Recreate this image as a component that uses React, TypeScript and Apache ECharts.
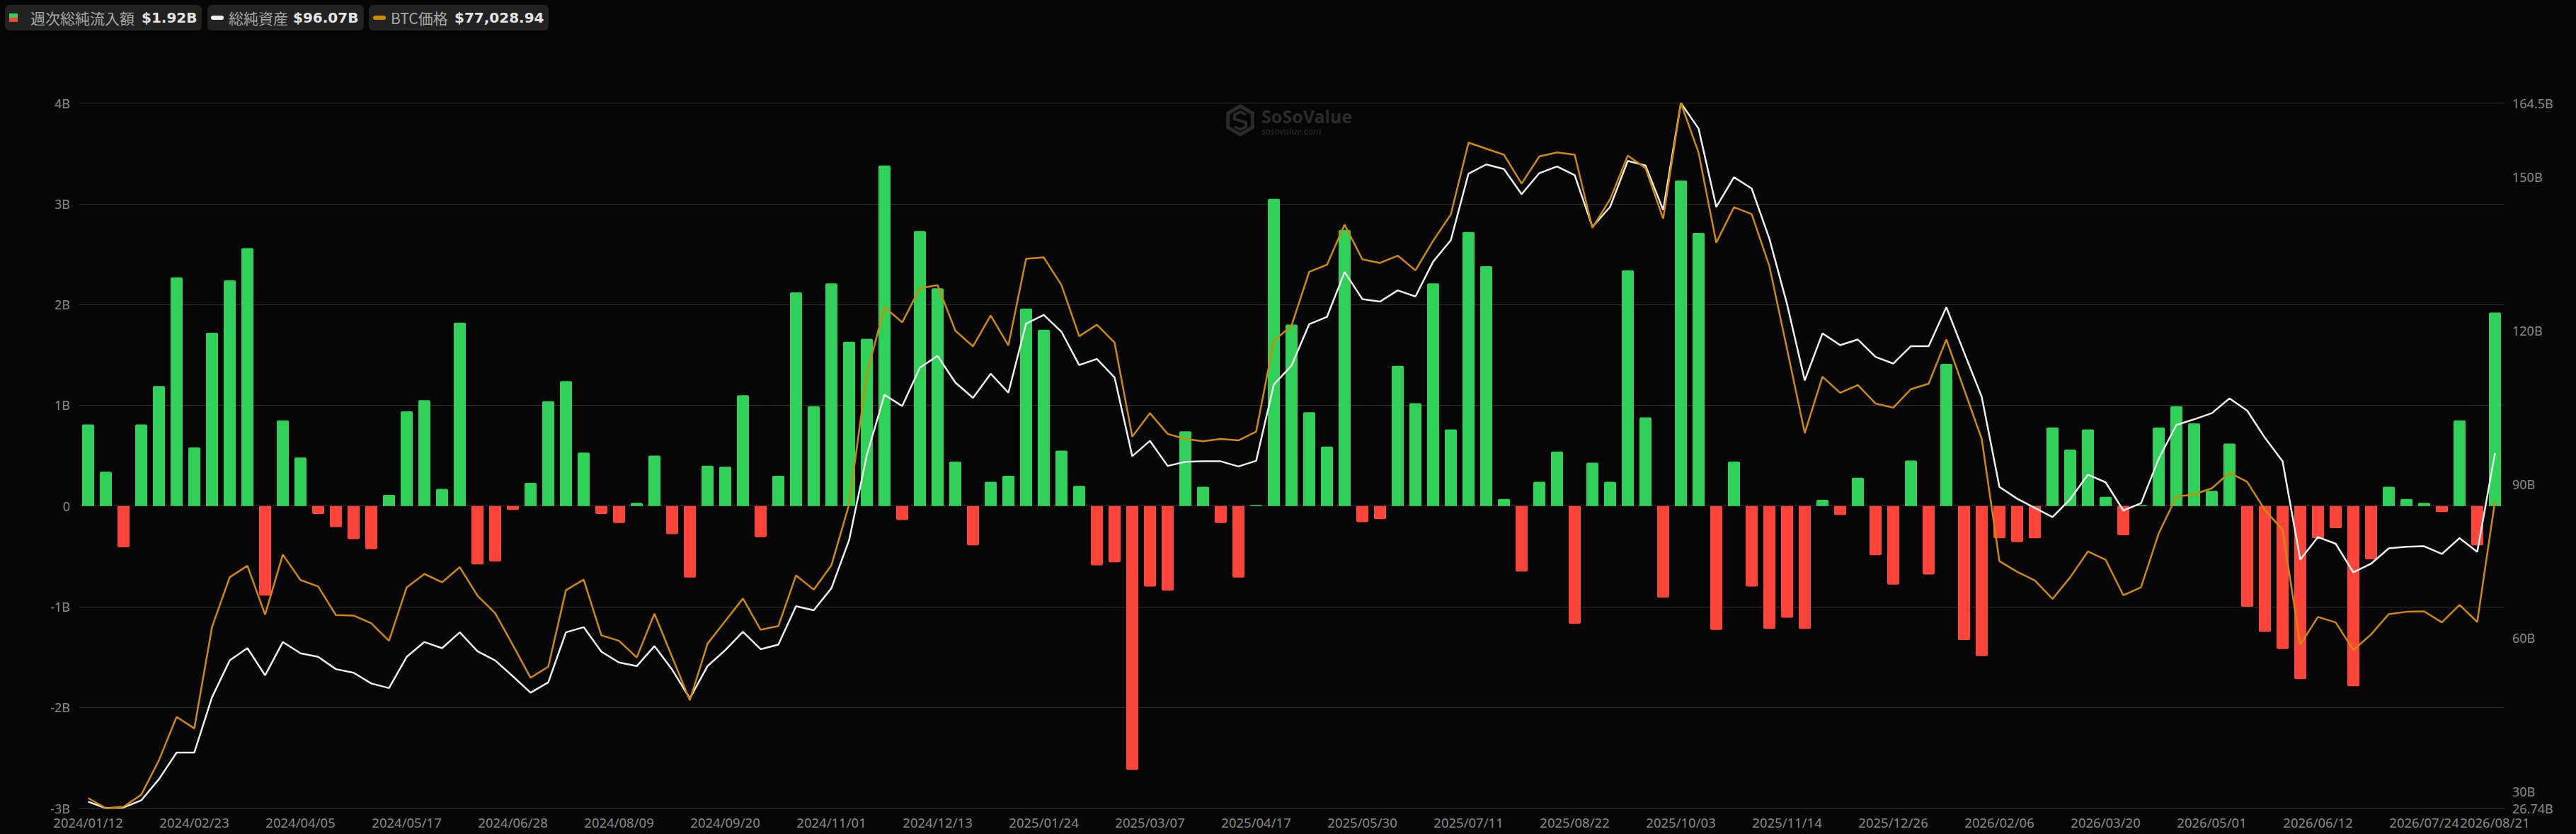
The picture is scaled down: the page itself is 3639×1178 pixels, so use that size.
import React, { useEffect, useRef } from "react";
import * as echarts from "echarts";

const dates = [
  "2024/01/12","2024/01/19","2024/01/26","2024/02/02","2024/02/09","2024/02/16","2024/02/23","2024/03/01","2024/03/08","2024/03/15",
  "2024/03/22","2024/03/29","2024/04/05","2024/04/12","2024/04/19","2024/04/26","2024/05/03","2024/05/10","2024/05/17","2024/05/24",
  "2024/05/31","2024/06/07","2024/06/14","2024/06/21","2024/06/28","2024/07/05","2024/07/12","2024/07/19","2024/07/26","2024/08/02",
  "2024/08/09","2024/08/16","2024/08/23","2024/08/30","2024/09/06","2024/09/13","2024/09/20","2024/09/27","2024/10/04","2024/10/11",
  "2024/10/18","2024/10/25","2024/11/01","2024/11/08","2024/11/15","2024/11/22","2024/11/29","2024/12/06","2024/12/13","2024/12/20",
  "2024/12/27","2025/01/03","2025/01/10","2025/01/17","2025/01/24","2025/01/31","2025/02/07","2025/02/14","2025/02/21","2025/02/28",
  "2025/03/07","2025/03/14","2025/03/21","2025/03/28","2025/04/04","2025/04/11","2025/04/17","2025/04/25","2025/05/02","2025/05/09",
  "2025/05/16","2025/05/23","2025/05/30","2025/06/06","2025/06/13","2025/06/20","2025/06/27","2025/07/04","2025/07/11","2025/07/18",
  "2025/07/25","2025/08/01","2025/08/08","2025/08/15","2025/08/22","2025/08/29","2025/09/05","2025/09/12","2025/09/19","2025/09/26",
  "2025/10/03","2025/10/10","2025/10/17","2025/10/24","2025/10/31","2025/11/07","2025/11/14","2025/11/21","2025/11/28","2025/12/05",
  "2025/12/12","2025/12/19","2025/12/26","2026/01/02","2026/01/09","2026/01/16","2026/01/23","2026/01/30","2026/02/06","2026/02/13",
  "2026/02/20","2026/02/27","2026/03/06","2026/03/13","2026/03/20","2026/03/27","2026/04/03","2026/04/10","2026/04/17","2026/04/24",
  "2026/05/01","2026/05/08","2026/05/15","2026/05/22","2026/05/29","2026/06/05","2026/06/12","2026/06/19","2026/06/26","2026/07/03",
  "2026/07/10","2026/07/17","2026/07/24","2026/07/31","2026/08/07","2026/08/14","2026/08/21",
];

// 週次総純流入額 (B USD)
const weeklyNetInflowB = [
  0.81, 0.34, -0.41, 0.81, 1.19, 2.27, 0.58, 1.72, 2.24, 2.56,
  -0.89, 0.85, 0.48, -0.08, -0.21, -0.33, -0.43, 0.11, 0.94, 1.05,
  0.17, 1.82, -0.58, -0.55, -0.04, 0.23, 1.04, 1.24, 0.53, -0.08,
  -0.17, 0.03, 0.5, -0.28, -0.71, 0.4, 0.39, 1.1, -0.31, 0.3,
  2.12, 0.99, 2.21, 1.63, 1.66, 3.38, -0.14, 2.73, 2.16, 0.44,
  -0.39, 0.24, 0.3, 1.96, 1.75, 0.55, 0.2, -0.59, -0.56, -2.62,
  -0.8, -0.84, 0.74, 0.19, -0.17, -0.71, 0.01, 3.05, 1.8, 0.93,
  0.59, 2.74, -0.16, -0.13, 1.39, 1.02, 2.21, 0.76, 2.72, 2.38,
  0.07, -0.65, 0.24, 0.54, -1.17, 0.43, 0.24, 2.34, 0.88, -0.91,
  3.23, 2.71, -1.23, 0.44, -0.8, -1.22, -1.11, -1.22, 0.06, -0.09,
  0.28, -0.49, -0.78, 0.45, -0.68, 1.41, -1.33, -1.49, -0.32, -0.36,
  -0.32, 0.78, 0.56, 0.76, 0.09, -0.29, 0.01, 0.78, 0.99, 0.82,
  0.15, 0.62, -1.0, -1.25, -1.42, -1.72, -0.32, -0.22, -1.79, -0.53,
  0.19, 0.07, 0.03, -0.06, 0.85, -0.39, 1.92,
];

// 総純資産 (B USD)
const totalNetAssetsB = [
  28.0, 26.74, 26.85, 28.27, 32.4, 37.6, 37.6, 48.4, 55.6, 58.0,
  52.7, 59.2, 57.0, 56.3, 53.9, 53.2, 51.1, 50.2, 56.3, 59.2,
  58.0, 61.1, 57.4, 55.6, 52.5, 49.3, 51.3, 61.1, 62.1, 57.3,
  55.2, 54.5, 58.4, 53.8, 48.2, 54.5, 57.6, 61.2, 57.8, 58.7,
  66.2, 65.4, 69.7, 79.1, 95.7, 107.5, 105.3, 112.8, 115.1, 109.9,
  106.9, 111.6, 107.9, 121.4, 123.1, 119.8, 113.3, 114.5, 110.9, 95.5,
  98.5, 93.6, 94.4, 94.5, 94.5, 93.5, 94.6, 109.5, 113.2, 121.3,
  122.7, 131.5, 126.2, 125.7, 127.9, 126.7, 133.5, 137.7, 150.7, 152.5,
  151.6, 146.7, 150.8, 152.1, 150.4, 140.3, 144.2, 153.2, 152.3, 143.6,
  164.5, 159.5, 144.2, 150.0, 147.8, 138.0, 125.2, 110.3, 119.5, 117.2,
  118.3, 114.9, 113.6, 117.0, 117.0, 124.6, 115.8, 107.1, 89.5, 87.2,
  85.4, 83.6, 87.1, 91.9, 90.4, 84.9, 86.3, 95.0, 101.6, 102.7,
  103.9, 106.8, 104.4, 99.1, 94.5, 75.3, 79.7, 78.4, 72.8, 74.5,
  77.5, 77.8, 77.9, 76.4, 79.5, 76.8, 96.07,
];

// BTC価格 (USD)
const btcPriceUsd = [
  42380, 41200, 41360, 42760, 46790, 51850, 50510, 62340, 68150, 69490,
  63790, 70790, 67830, 67070, 63740, 63680, 62770, 60730, 66970, 68530,
  67560, 69330, 66000, 63950, 60240, 56420, 57710, 66640, 67880, 61370,
  60730, 58790, 63900, 58840, 53790, 60400, 63040, 65670, 62020, 62450,
  68360, 66700, 69550, 76650, 91870, 99670, 97900, 101880, 102250, 96930,
  95100, 98700, 95210, 105320, 105480, 102250, 96280, 97630, 95530, 84560,
  87300, 84880, 84290, 84020, 84290, 84120, 85150, 95740, 97520, 103810,
  104620, 109300, 105260, 104830, 105690, 103970, 107420, 110480, 118870, 118170,
  117470, 114090, 117260, 117740, 117470, 108920, 112260, 117370, 115910, 110000,
  123500, 117700, 107200, 111340, 110540, 104460, 94780, 84990, 91550, 89670,
  90580, 88430, 87940, 90100, 90740, 95900, 90100, 84290, 70030, 68790,
  67770, 65620, 68150, 71160, 70190, 66050, 66970, 73260, 77560, 77830,
  78530, 80360, 79280, 76000, 73690, 60300, 63520, 62880, 59650, 61480,
  63850, 64120, 64170, 62880, 64920, 62930, 77028.94,
];

const leftAxisMin = -3;
const leftAxisMax = 4;
const leftAxisStep = 1;
const rightAxisMin = 26.74;
const rightAxisMax = 164.5;
const rightAxisLabels = [26.74, 30, 60, 90, 120, 150, 164.5];
const xLabelEvery = 6;

const GREEN = "#30d158";
const RED = "#ff453a";
const WHITE = "#eeeeee";
const ORANGE = "#d08a00";
const BG = "#060606";

export default function App() {
  const ref = useRef<HTMLDivElement>(null);

  useEffect(() => {
    document.body.style.margin = "0";
    document.body.style.background = BG;
    if (!ref.current) return;
    const chart = echarts.init(ref.current, null, { renderer: "svg" });

    const last = dates.length - 1;
    const inflowText = `$${weeklyNetInflowB[last].toFixed(2)}B`;
    const assetsText = `$${totalNetAssetsB[last].toFixed(2)}B`;
    const btcText = `$${btcPriceUsd[last].toLocaleString("en-US", { minimumFractionDigits: 2, maximumFractionDigits: 2 })}`;

    const labelFont = '21px "Noto Sans CJK JP"';
    const valueFont = 'bold 20px "DejaVu Sans"';
    const labelColor = "#a8a8a8";
    const valueColor = "#e4e4e4";
    const wm = "#2a2a2a";

    const hexCx = 1752;
    const hexCy = 170;
    const hr = 20;
    const hexPts: number[][] = [];
    for (let k = 0; k < 6; k++) {
      const a = (Math.PI / 180) * (-90 + 60 * k);
      hexPts.push([hexCx + hr * Math.cos(a), hexCy + hr * Math.sin(a)]);
    }

    const text = (x: number, y: number, t: string, font: string, fill: string) => ({
      type: "text",
      x,
      y,
      silent: true,
      style: { text: t, font, fill, textVerticalAlign: "middle", verticalAlign: "middle" },
    });

    chart.setOption({
      animation: false,
      backgroundColor: BG,
      grid: { left: 112, right: 102, top: 145.5, bottom: 36.5, containLabel: false },
      xAxis: {
        type: "category",
        data: dates,
        boundaryGap: true,
        axisLine: { show: true, onZero: false, lineStyle: { color: "#363636", width: 1 } },
        axisTick: { show: false },
        splitLine: { show: false },
        axisLabel: {
          interval: (i: number) => i % xLabelEvery === 0 || i === last,
          hideOverlap: false,
          showMaxLabel: true,
          showMinLabel: true,
          color: "#8a8a8a",
          fontSize: 18.5,
          lineHeight: 16,
          fontFamily: "Noto Sans",
          margin: 12,
        },
      },
      yAxis: [
        {
          type: "value",
          position: "left",
          min: leftAxisMin,
          max: leftAxisMax,
          interval: leftAxisStep,
          axisLine: { show: false },
          axisTick: { show: false },
          splitLine: { show: true, lineStyle: { color: "#2e2e2e", width: 1 } },
          axisLabel: {
            formatter: (v: number) => (v === 0 ? "0" : `${v}B`),
            color: "#8a8a8a",
            fontSize: 18,
            lineHeight: 14,
            fontFamily: "Noto Sans",
            margin: 13,
          },
        },
        {
          type: "value",
          position: "right",
          min: rightAxisMin,
          max: rightAxisMax,
          axisLine: { show: false },
          axisTick: { show: false },
          splitLine: { show: false },
          axisLabel: {
            customValues: rightAxisLabels,
            formatter: (v: number) => `${v}B`,
            color: "#8a8a8a",
            fontSize: 18,
            lineHeight: 14,
            fontFamily: "Noto Sans",
            margin: 12,
          },
        },
        {
          type: "value",
          show: false,
          min: "dataMin",
          max: "dataMax",
        },
      ],
      series: [
        {
          name: "週次総純流入額",
          type: "bar",
          yAxisIndex: 0,
          barWidth: 17,
          data: weeklyNetInflowB.map((v) => ({
            value: v,
            itemStyle: { color: v >= 0 ? GREEN : RED, borderRadius: v >= 0 ? [2, 2, 0, 0] : [0, 0, 2, 2] },
          })),
          z: 2,
        },
        {
          name: "総純資産",
          type: "line",
          yAxisIndex: 1,
          data: totalNetAssetsB,
          symbol: "none",
          lineStyle: { color: WHITE, width: 2.5 },
          itemStyle: { color: WHITE },
          z: 3,
        },
        {
          name: "BTC価格",
          type: "line",
          yAxisIndex: 2,
          data: btcPriceUsd,
          symbol: "none",
          lineStyle: { color: ORANGE, width: 2.5 },
          itemStyle: { color: ORANGE },
          z: 4,
        },
      ],
      graphic: [
        // watermark
        {
          type: "polygon",
          silent: true,
          shape: { points: hexPts },
          style: { fill: "none", stroke: wm, lineWidth: 5 },
        },
        {
          type: "polyline",
          silent: true,
          shape: {
            points: [
              [hexCx + 8, hexCy - 8],
              [hexCx, hexCy - 12],
              [hexCx - 8, hexCy - 8],
              [hexCx - 8, hexCy - 2],
              [hexCx + 8, hexCy + 3],
              [hexCx + 8, hexCy + 9],
              [hexCx, hexCy + 13],
              [hexCx - 8, hexCy + 9],
            ],
          },
          style: { fill: "none", stroke: wm, lineWidth: 4 },
        },
        text(1782, 164, "SoSoValue", 'bold 25px "Noto Sans"', wm),
        text(1782, 185, "sosovalue.com", 'italic 13px "Noto Sans"', wm),
        // legend boxes
        { type: "rect", shape: { x: 7, y: 7, width: 278, height: 36, r: 6 }, style: { fill: "#222222" } },
        { type: "rect", shape: { x: 13, y: 19, width: 12, height: 6 }, style: { fill: GREEN } },
        { type: "rect", shape: { x: 13, y: 25, width: 12, height: 6 }, style: { fill: RED } },
        text(43, 25, "週次総純流入額", labelFont, labelColor),
        text(200, 25, inflowText, valueFont, valueColor),

        { type: "rect", shape: { x: 293, y: 7, width: 221, height: 36, r: 6 }, style: { fill: "#222222" } },
        { type: "rect", shape: { x: 298, y: 22, width: 18, height: 6, r: 3 }, style: { fill: WHITE } },
        text(323, 25, "総純資産", labelFont, labelColor),
        text(414, 25, assetsText, valueFont, valueColor),

        { type: "rect", shape: { x: 521, y: 7, width: 254, height: 36, r: 6 }, style: { fill: "#222222" } },
        { type: "rect", shape: { x: 527, y: 22, width: 18, height: 6, r: 3 }, style: { fill: ORANGE } },
        text(552, 25, "BTC価格", labelFont, labelColor),
        text(642, 25, btcText, valueFont, valueColor),
      ],
    });

    return () => {
      chart.dispose();
    };
  }, []);

  return <div ref={ref} style={{ width: 3639, height: 1178, background: BG }} />;
}
